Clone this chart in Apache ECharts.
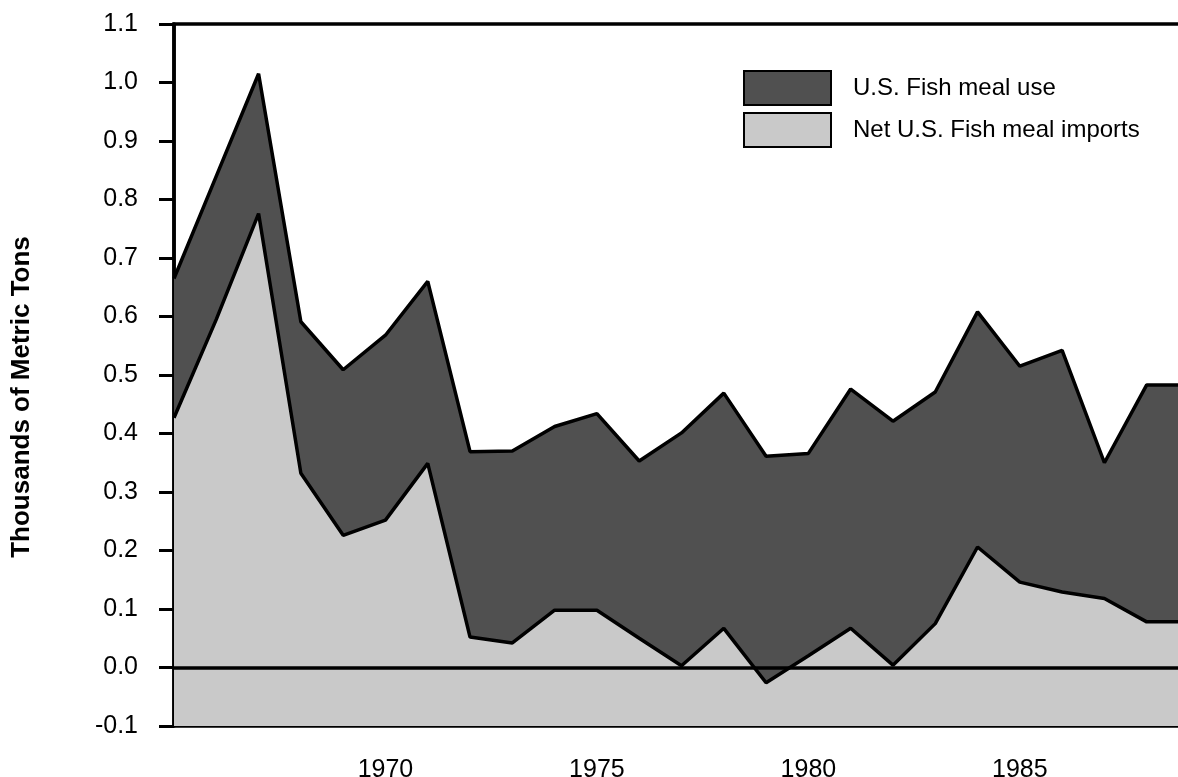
<!DOCTYPE html>
<html>
<head>
<meta charset="utf-8">
<script src="https://cdn.jsdelivr.net/npm/echarts@6/dist/echarts.min.js"></script>
<style>
  html, body { margin: 0; padding: 0; background: #fff; }
  #main { width: 1178px; height: 777px; }
</style>
</head>
<body>
<div id="main"></div>
<script>
  // values, thousands of metric tons
  var years = [1965, 1966, 1967, 1968, 1969, 1970, 1971, 1972, 1973, 1974, 1975, 1976,
    1977, 1978, 1979, 1980, 1981, 1982, 1983, 1984, 1985, 1986, 1987, 1988, 1989]
  var mealUse = [0.665, 0.84, 1.015, 0.591, 0.509, 0.568, 0.66, 0.369, 0.37, 0.412, 0.434, 0.353,
    0.401, 0.469, 0.361, 0.366, 0.476, 0.421, 0.471, 0.608, 0.515, 0.542, 0.35, 0.483, 0.483]
  var netImports = [0.427, 0.595, 0.776, 0.332, 0.226, 0.252, 0.349, 0.052, 0.042, 0.098, 0.098, 0.05,
    0.003, 0.067, -0.026, 0.02, 0.067, 0.004, 0.075, 0.206, 0.146, 0.129, 0.118, 0.078, 0.078]
  var labelYears = [1970, 1975, 1980, 1985]
  var seriesNames = ['U.S. Fish meal use', 'Net U.S. Fish meal imports']

  var darkFill = '#505050'
  var lightFill = '#c9c9c9'
  var font = 'Liberation Sans, Arial, Helvetica, sans-serif'

  function pairs(vals) {
    return years.map(function (y, i) { return [y, vals[i]] })
  }

  var chart = echarts.init(document.getElementById('main'))
  var option = {
    animation: false,
    backgroundColor: '#fff',
    grid: {
      left: 174,
      right: -11,
      top: 24,
      bottom: 51,
      outerBoundsMode: 'none',
      show: true,
      borderColor: '#000',
      borderWidth: 3.5,
      backgroundColor: 'transparent',
    },
    legend: {
      orient: 'vertical',
      left: 738,
      top: 65,
      icon: 'rect',
      itemWidth: 87,
      itemHeight: 34,
      itemGap: 6,
      textStyle: {
        fontFamily: font,
        fontSize: 24,
        color: '#000',
        padding: [0, 0, 0, 17],
      },
      data: [
        { name: seriesNames[0], itemStyle: { color: darkFill, borderColor: '#000', borderWidth: 2 } },
        { name: seriesNames[1], itemStyle: { color: lightFill, borderColor: '#000', borderWidth: 2 } },
      ],
    },
    xAxis: {
      type: 'value',
      min: 1965,
      max: 1989,
      interval: 1,
      axisLine: { show: true, lineStyle: { color: '#000', width: 3.5 } },
      axisTick: { show: true, length: 14, lineStyle: { color: '#000', width: 3 } },
      splitLine: { show: false },
      axisLabel: {
        margin: 32,
        fontFamily: font,
        fontSize: 25,
        color: '#000',
        formatter: function (v) {
          return labelYears.indexOf(v) >= 0 ? String(v) : ''
        },
      },
    },
    yAxis: {
      type: 'value',
      min: -0.1,
      max: 1.1,
      interval: 0.1,
      name: 'Thousands of Metric Tons',
      nameLocation: 'middle',
      nameGap: 139,
      nameTextStyle: {
        fontFamily: font,
        fontSize: 26,
        fontWeight: 'bold',
        color: '#000',
        padding: [0, 44, 0, 0],
      },
      axisLine: { show: true, lineStyle: { color: '#000', width: 3.5 } },
      axisTick: { show: true, length: 15, lineStyle: { color: '#000', width: 3 } },
      splitLine: { show: false },
      axisLabel: {
        margin: 36,
        fontFamily: font,
        fontSize: 25,
        color: '#000',
        formatter: function (v) { return v.toFixed(1) },
      },
    },
    series: [
      {
        name: seriesNames[0],
        type: 'line',
        data: pairs(mealUse),
        showSymbol: false,
        itemStyle: { color: darkFill },
        lineStyle: { color: '#000', width: 3.5 },
        areaStyle: { color: darkFill, opacity: 1, origin: 'start' },
        z: 2,
      },
      {
        name: seriesNames[1],
        type: 'line',
        data: pairs(netImports),
        showSymbol: false,
        itemStyle: { color: lightFill },
        lineStyle: { color: '#000', width: 3.5 },
        areaStyle: { color: lightFill, opacity: 1, origin: 'start' },
        z: 3,
        markLine: {
          silent: true,
          symbol: 'none',
          label: { show: false },
          lineStyle: { color: '#000', width: 3.5, type: 'solid' },
          data: [{ yAxis: 0 }],
        },
      },
    ],
  }
  chart.setOption(option)
</script>
</body>
</html>
